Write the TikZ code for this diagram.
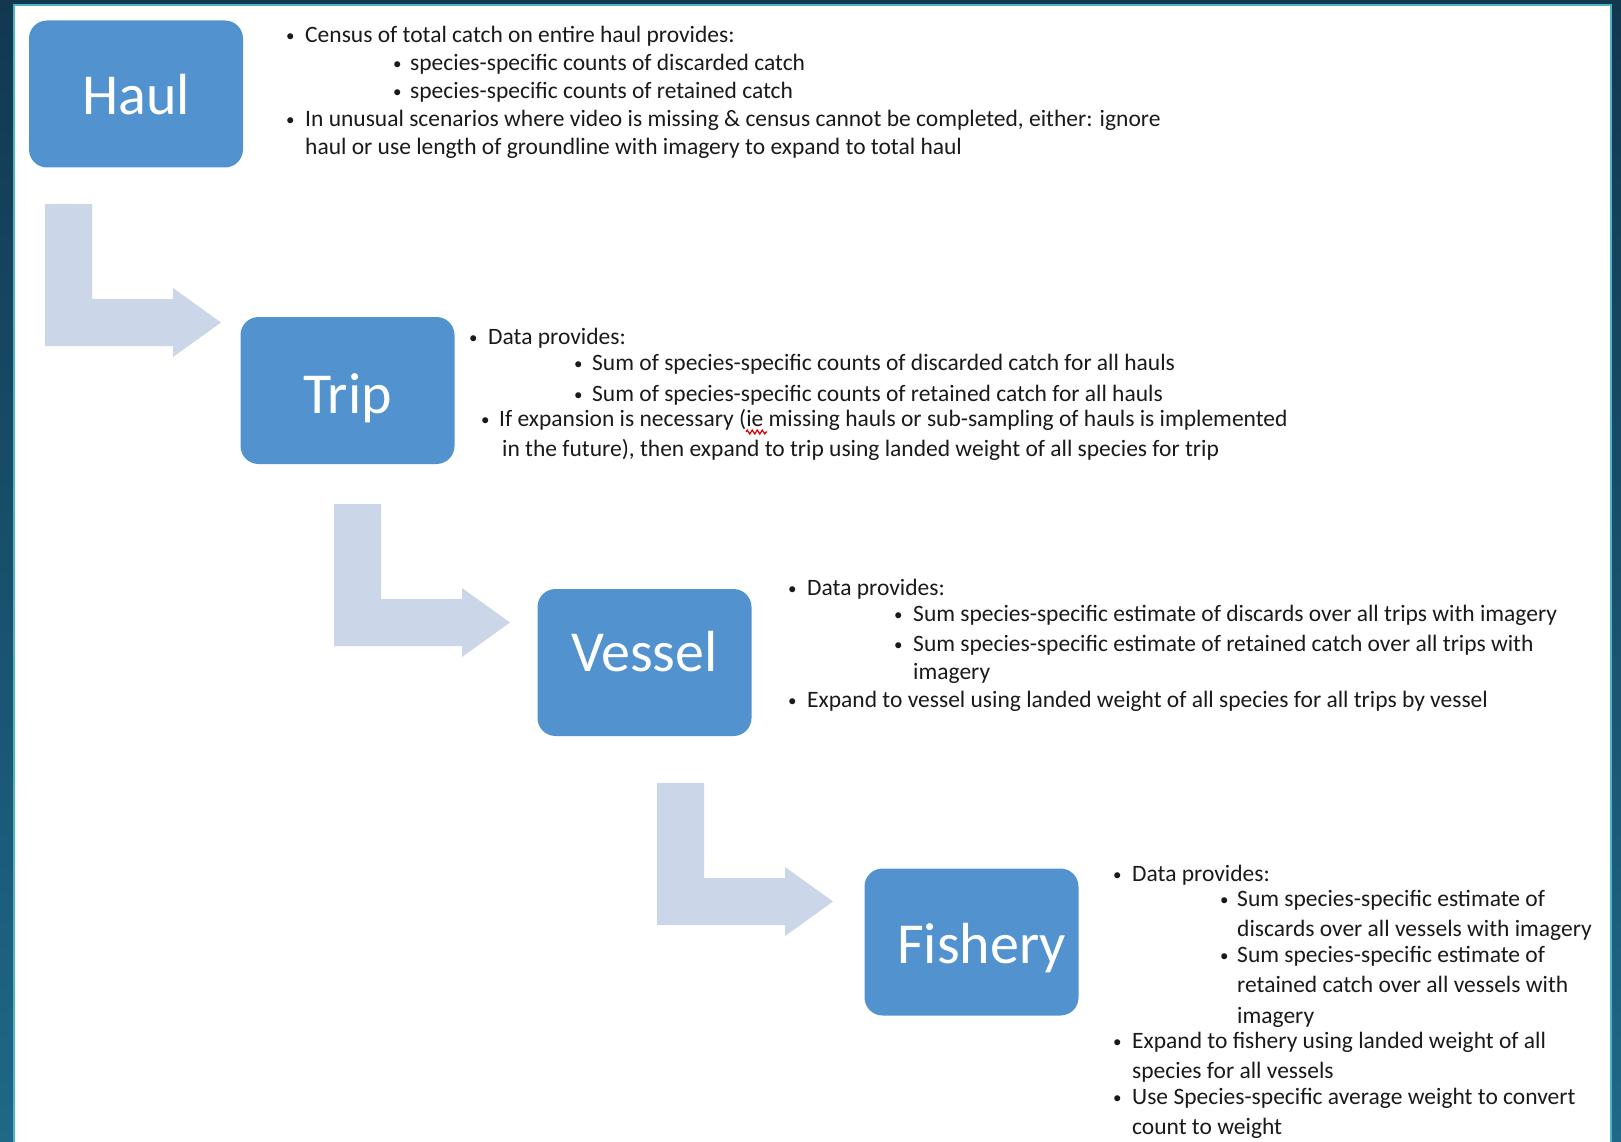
\documentclass[tikz,border=0pt]{standalone}
\usepackage{fontspec}
\setmainfont{Carlito}
\usetikzlibrary{decorations.pathmorphing}
\definecolor{boxblue}{HTML}{5293CF}
\definecolor{arrowfill}{HTML}{CBD6E8}
\definecolor{darktop}{HTML}{123850}
\definecolor{darkbot}{HTML}{1F6888}
\definecolor{cyanline}{HTML}{4BB5C5}
\definecolor{textdark}{HTML}{1A1A1A}
\begin{document}
\begin{tikzpicture}[x=1pt,y=-1pt,
  box/.style={draw=none, fill=boxblue, rounded corners=18pt, minimum width=214pt, minimum height=147pt, text=white, font=\fontsize{58}{60}\selectfont, inner sep=0pt, text height=37pt, text depth=0pt},
  txt/.style={anchor=base west, inner sep=0pt, font=\fontsize{23.5}{28}\selectfont, text=textdark},
  bul/.style={anchor=base west, inner sep=0pt, font=\fontsize{17}{28}\selectfont, text=textdark},
  bent/.pic={\fill[arrowfill] (0,0) -- (0,-142) -- (47,-142) -- (47,-47) -- (128,-47) -- (128,-58) -- (176,-23.5) -- (128,11) -- (128,0) -- cycle;}]
\useasboundingbox (0,0) rectangle (1621,1142);
\fill[top color=darktop, bottom color=darkbot] (0,0) rectangle (1621,1142);
\fill[cyanline] (13,4) rectangle (1612,1142);
\fill[white] (15,6) rectangle (1610,1142);

% boxes
\node[box] (haul) at (136,94) {\raisebox{-2.5pt}{Haul}};
\node[box] (trip) at (347.5,390.5) {\raisebox{-4pt}{Trip}};
\node[box] (vessel) at (644.5,662.5) {\raisebox{10pt}{Vessel}};
\node[box] (fishery) at (971.5,942) {\hspace{20pt}\raisebox{-2.5pt}{Fishery}};

% bent arrows
\pic at (45,346) {bent};
\pic at (334,646) {bent};
\pic at (657,925) {bent};

% Haul text
\node[bul] (hb1) at (286,42) {•};
\node[txt] (h1) at (305,43) {Census of total catch on entire haul provides:};
\node[bul] (hb2) at (393,70) {•};
\node[txt] (h2) at (410,71) {species-specific counts of discarded catch};
\node[bul] (hb3) at (393,98) {•};
\node[txt] (h3) at (410,99) {species-specific counts of retained catch};
\node[bul] (hb4) at (286,126) {•};
\node[txt] (h4) at (305,127) {In unusual scenarios where video is missing \& census cannot be completed, either: ignore};
\node[txt] (h5) at (305,155) {haul or use length of groundline with imagery to expand to total haul};

% Trip text
\node[bul] (tb1) at (469,343) {•};
\node[txt] (t1) at (488,344) {Data provides:};
\node[bul] (tb2) at (574,369) {•};
\node[txt] (t2) at (592,370) {Sum of species-specific counts of discarded catch for all hauls};
\node[bul] (tb3) at (574,400) {•};
\node[txt] (t3) at (592,401) {Sum of species-specific counts of retained catch for all hauls};
\node[bul] (tb4) at (481,425) {•};
\node[txt] (t4) at (499,426) {If expansion is necessary (ie missing hauls or sub-sampling of hauls is implemented};
\node[txt] (t5) at (502,456) {in the future), then expand to trip using landed weight of all species for trip};
\draw[red!85!black, line width=1.2pt, decorate, decoration={zigzag, amplitude=2pt, segment length=5pt}] (746,432) -- (767,432);

% Vessel text
\node[bul] (vb1) at (788,594) {•};
\node[txt] (v1) at (807,595) {Data provides:};
\node[bul] (vb2) at (894,620) {•};
\node[txt] (v2) at (913,621) {Sum species-specific estimate of discards over all trips with imagery};
\node[bul] (vb3) at (894,650) {•};
\node[txt] (v3) at (913,651) {Sum species-specific estimate of retained catch over all trips with};
\node[txt] (v4) at (913,679) {imagery};
\node[bul] (vb5) at (788,706) {•};
\node[txt] (v5) at (807,707) {Expand to vessel using landed weight of all species for all trips by vessel};

% Fishery text
\node[bul] (fb1) at (1113,880) {•};
\node[txt] (f1) at (1132,881) {Data provides:};
\node[bul] (fb2) at (1220,905) {•};
\node[txt] (f2) at (1237,906) {Sum species-specific estimate of};
\node[txt] (f3) at (1237,936) {discards over all vessels with imagery};
\node[bul] (fb4) at (1220,961) {•};
\node[txt] (f4) at (1237,962) {Sum species-specific estimate of};
\node[txt] (f5) at (1237,992) {retained catch over all vessels with};
\node[txt] (f6) at (1237,1023) {imagery};
\node[bul] (fb7) at (1113,1047) {•};
\node[txt] (f7) at (1132,1048) {Expand to fishery using landed weight of all};
\node[txt] (f8) at (1132,1078) {species for all vessels};
\node[bul] (fb9) at (1113,1103) {•};
\node[txt] (f9) at (1132,1104) {Use Species-specific average weight to convert};
\node[txt] (f10) at (1132,1134) {count to weight};
\end{tikzpicture}
\end{document}
